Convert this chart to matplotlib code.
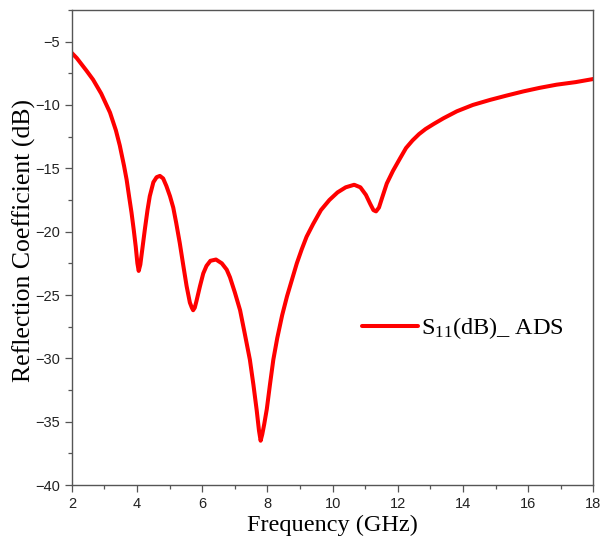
import matplotlib
matplotlib.use("Agg")
import matplotlib.pyplot as plt
from matplotlib.ticker import MultipleLocator

# S11 (GHz, dB)
freq = [2.0, 2.15, 2.3, 2.45, 2.65, 2.9, 3.17, 3.35, 3.47, 3.6, 3.68, 3.76,
        3.83, 3.9, 3.96, 4.01, 4.05, 4.1, 4.17, 4.24, 4.32, 4.39, 4.5, 4.6,
        4.7, 4.8, 4.9, 5.01, 5.11, 5.2, 5.31, 5.42, 5.52, 5.62, 5.68, 5.72,
        5.77, 5.82, 5.93, 6.03, 6.13, 6.25, 6.42, 6.6, 6.75, 6.85, 7.0,
        7.16, 7.3, 7.46, 7.57, 7.67, 7.74, 7.79, 7.84, 7.9, 7.98, 8.08,
        8.18, 8.3, 8.45, 8.6, 8.75, 8.9, 9.05, 9.2, 9.4, 9.64, 9.9, 10.15,
        10.4, 10.66, 10.85, 11.02, 11.15, 11.25, 11.33, 11.42, 11.52, 11.66,
        11.85, 12.07, 12.25, 12.45, 12.65, 12.85, 13.1, 13.4, 13.81, 14.3,
        14.83, 15.35, 15.85, 16.35, 16.87, 17.45, 18.0]
s11_db = [-5.9, -6.3, -6.8, -7.3, -8.0, -9.1, -10.6, -12.0, -13.2, -14.8,
          -15.9, -17.3, -18.5, -19.9, -21.2, -22.5, -23.1, -22.6, -21.2,
          -19.8, -18.3, -17.2, -16.1, -15.7, -15.6, -15.8, -16.4, -17.2,
          -18.1, -19.3, -20.9, -22.7, -24.3, -25.6, -26.0, -26.2, -26.0,
          -25.5, -24.3, -23.3, -22.7, -22.3, -22.2, -22.5, -23.0, -23.6,
          -24.8, -26.2, -28.0, -30.1, -32.1, -34.1, -35.7, -36.5, -36.0,
          -35.2, -34.0, -32.0, -30.1, -28.4, -26.6, -25.1, -23.8, -22.5,
          -21.4, -20.4, -19.4, -18.3, -17.5, -16.9, -16.5, -16.3, -16.5,
          -17.1, -17.8, -18.3, -18.4, -18.1, -17.3, -16.2, -15.2, -14.2,
          -13.4, -12.8, -12.3, -11.9, -11.5, -11.05, -10.5, -10.0, -9.6,
          -9.25, -8.93, -8.65, -8.4, -8.2, -7.95]

x_ticks = [2, 4, 6, 8, 10, 12, 14, 16, 18]
y_ticks = [-40, -35, -30, -25, -20, -15, -10, -5]

plt.rcParams["mathtext.fontset"] = "custom"
plt.rcParams["mathtext.rm"] = "Liberation Serif"
plt.rcParams["mathtext.it"] = "Liberation Serif:italic"

fig = plt.figure(figsize=(6.09, 5.36), dpi=100)
ax = fig.add_axes([0.118, 0.095, 0.8565, 0.8865])

ax.plot(freq, s11_db, color="#ff0000", lw=2.9, solid_joinstyle="round",
        solid_capstyle="round", label=r"S$_{11}$(dB)_ ADS")

ax.set_xlim(2, 18)
ax.set_ylim(-40, -2.5)
ax.set_xticks(x_ticks)
ax.set_yticks(y_ticks)
ax.xaxis.set_minor_locator(MultipleLocator(1))
ax.yaxis.set_minor_locator(MultipleLocator(2.5))

for side in ["left", "bottom", "right", "top"]:
    ax.spines[side].set_color("#555555")
    ax.spines[side].set_linewidth(1.0)
ax.tick_params(which="both", direction="out", color="#555555", width=0.9,
               top=False, right=False)
ax.tick_params(which="major", length=5)
ax.tick_params(which="minor", length=3)
for lab in ax.get_xticklabels() + ax.get_yticklabels():
    lab.set_fontfamily("Liberation Sans")
    lab.set_fontsize(10.5)
    lab.set_color("#222222")

ax.set_xlabel("Frequency (GHz)", family="Liberation Serif", fontsize=17.5,
              labelpad=3)
ax.set_ylabel("Reflection Coefficient (dB)", family="Liberation Serif",
              fontsize=18.5)
ax.yaxis.set_label_coords(-0.069, 0.515)

ax.legend(loc="center left", bbox_to_anchor=(0.556, 0.33), frameon=False,
          borderpad=0, borderaxespad=0, handlelength=2.3, handletextpad=0.15,
          prop={"family": "Liberation Serif", "size": 17.5})

fig.savefig("out.png", dpi=100)
